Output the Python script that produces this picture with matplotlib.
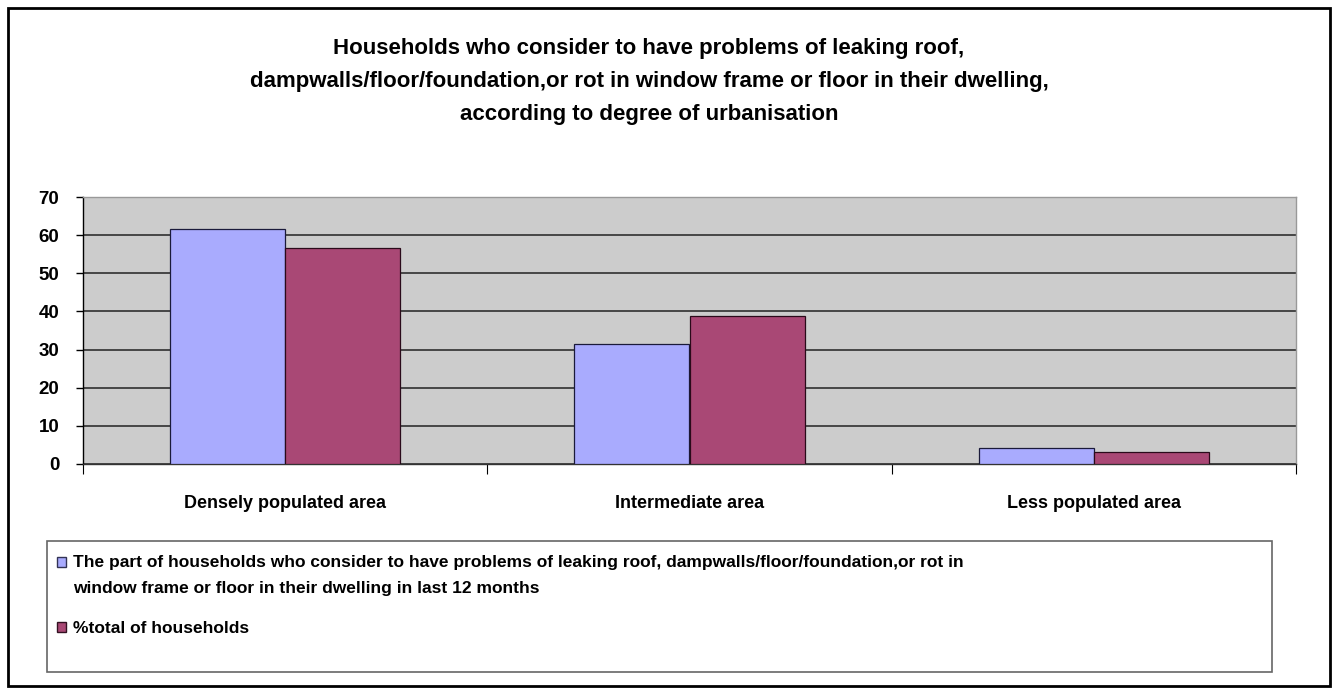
import matplotlib
matplotlib.use("Agg")
import matplotlib.pyplot as plt
from matplotlib.patches import Rectangle, Patch
import numpy as np

plt.rcParams['font.family'] = ['Liberation Sans', 'DejaVu Sans']

categories = ["Densely populated area", "Intermediate area", "Less populated area"]
series_names = [
    "The part of households who consider to have problems of leaking roof, dampwalls/floor/foundation,or rot in\nwindow frame or floor in their dwelling in last 12 months",
    "%total of households",
]
problems = [61.7, 31.4, 4.3]
total_households = [56.5, 38.8, 3.2]
yticks = [0, 10, 20, 30, 40, 50, 60, 70]
title = ("Households who consider to have problems of leaking roof,\n"
         "dampwalls/floor/foundation,or rot in window frame or floor in their dwelling,\n"
         "according to degree of urbanisation")

colors = ["#A9ABFE", "#A94875"]

W, H = 1338, 693
fig = plt.figure(figsize=(W / 100, H / 100), dpi=100)

# outer border
fig.patches.append(Rectangle((8 / W, 1 - 686 / H), (1330 - 8) / W, (686 - 8) / H,
                             transform=fig.transFigure, fill=False,
                             edgecolor="black", linewidth=2))

ax = fig.add_axes([83 / W, 1 - 464 / H, (1296 - 83) / W, (464 - 197) / H])
ax.set_facecolor("#CCCCCC")

x = np.arange(len(categories)) + 0.5
bw = 0.285
ax.bar(x - bw / 2, problems, width=bw, color=colors[0], edgecolor="#1a1a3a",
       linewidth=0.9, zorder=3)
ax.bar(x + bw / 2, total_households, width=bw, color=colors[1], edgecolor="#2a0a1a",
       linewidth=0.9, zorder=3)

ax.set_xlim(0, len(categories))
ax.set_ylim(0, 70)
for v in yticks[:-1]:
    ax.axhline(v, color="#222222", linewidth=1.1, zorder=2)

ax.set_yticks(yticks)
ax.set_yticklabels([str(v) for v in yticks], fontsize=13.5, fontweight="bold")
ax.tick_params(axis="y", direction="out", length=5, width=1, pad=12)

ax.set_xticks(np.arange(len(categories) + 1))
ax.set_xticklabels([])
ax.tick_params(axis="x", which="major", direction="out", length=7, width=0.8)
ax.set_xticks(x, minor=True)
ax.set_xticklabels(categories, minor=True, fontsize=13, fontweight="bold")
ax.tick_params(axis="x", which="minor", length=0, pad=22)

ax.spines["left"].set_color("black")
ax.spines["bottom"].set_color("#333333")
ax.spines["top"].set_color("#999999")
ax.spines["right"].set_color("#999999")
for s in ax.spines.values():
    s.set_linewidth(1)

fig.text(649 / W, 1 - 38 / H, title, ha="center", va="top", fontsize=16,
         fontweight="bold", linespacing=1.75)

# legend frame
fig.patches.append(Rectangle((47 / W, 1 - 672 / H), (1272 - 47) / W, (672 - 541) / H,
                             transform=fig.transFigure, fill=False,
                             edgecolor="#666666", linewidth=1.2))
handles = [Patch(facecolor=colors[0], edgecolor="#333355"),
           Patch(facecolor=colors[1], edgecolor="#331122")]
leg = fig.legend(handles, series_names, loc="upper left",
                 bbox_to_anchor=(57 / W, 1 - 555 / H), frameon=False,
                 prop={"size": 12.5, "weight": "bold"}, handlelength=0.5,
                 handleheight=0.55, handletextpad=0.45, labelspacing=1.45,
                 borderpad=0, borderaxespad=0, alignment="left")
for t in leg.get_texts():
    t.set_linespacing(1.9)
# align first marker with the first line of its two-line label
h0 = leg.legend_handles[0]
h0.set_y(h0.get_y() + 9.5)

fig.savefig("out.png", dpi=100, facecolor="white")
